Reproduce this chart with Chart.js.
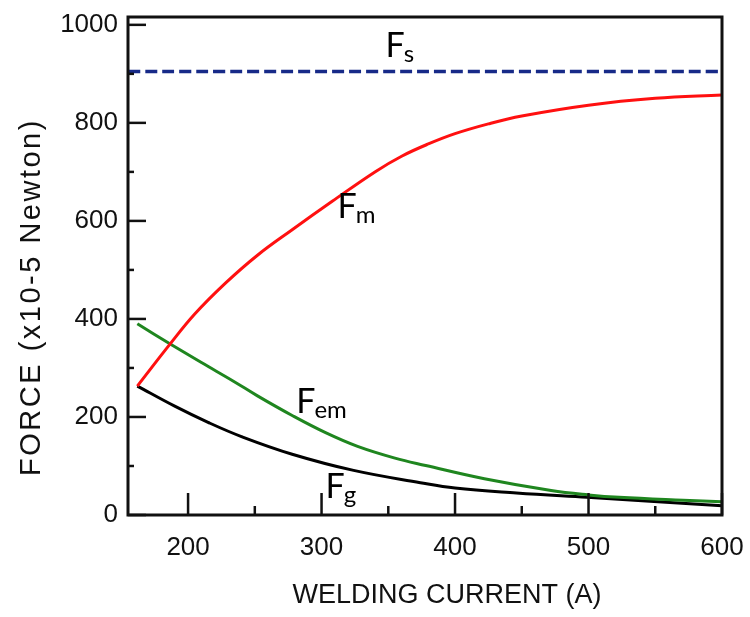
<!DOCTYPE html>
<html>
<head>
<meta charset="utf-8">
<script src="https://cdn.jsdelivr.net/npm/chart.js@4/dist/chart.umd.min.js"></script>
<style>
  html, body { margin: 0; padding: 0; background: #ffffff; }
  #wrap { width: 750px; height: 617px; }
</style>
</head>
<body>
<div id="wrap"><canvas id="chart" width="750" height="617"></canvas></div>
<script>
// Welding current (A) and force (x10^-5 N) for each force component
const fsCurrent  = [155, 600];
const fsForce    = [905, 905];

const fmCurrent  = [162, 186, 205, 228, 252, 278, 308, 340, 360, 380, 400, 425, 450, 500, 550, 600];
const fmForce    = [263, 347, 410, 473, 530, 582, 640, 700, 732, 757, 778, 798, 814, 836, 850, 857];

const femCurrent = [162, 186, 210, 234, 252, 278, 303, 327, 355, 378, 422, 472, 500, 523, 571, 600];
const femForce   = [390, 350, 311, 273, 243, 203, 168, 140, 116, 101, 74, 50, 41, 36, 30, 27];

const fgCurrent  = [162, 190, 215, 240, 278, 324, 374, 400, 446, 499, 546, 600];
const fgForce    = [263, 222, 189, 160, 124, 91, 66, 55, 45, 36, 28, 19];

// Axis ticks
const xTickValues = [200, 250, 300, 350, 400, 450, 500, 550, 600];
const xTickLabels = [200, 300, 400, 500, 600];
const yTickValues = [0, 100, 200, 300, 400, 500, 600, 700, 800, 900, 1000];
const yTickLabels = [0, 200, 400, 600, 800, 1000];

const xTitle = 'WELDING CURRENT (A)';
const yTitle = 'FORCE (x10-5 Newton)';

// Curve names: main letter and subscript, anchored in data units
const curveLabels = [
  { main: 'F', sub: 's',  x: 348, y: 935 },
  { main: 'F', sub: 'm',  x: 312, y: 606 },
  { main: 'F', sub: 'em', x: 281, y: 208 },
  { main: 'F', sub: 'g',  x: 303, y: 35 }
];

const pts = (xs, ys) => xs.map((v, i) => ({ x: v, y: ys[i] }));

const AXIS_FONT = '"Liberation Sans", Arial, sans-serif';
const LABEL_FONT = 'Lato, "Open Sans", sans-serif';

// Frame, inward tick marks, axis titles and curve names
const decorations = {
  id: 'decorations',
  afterDraw(chart) {
    const { ctx, chartArea: a, scales: { x, y } } = chart;
    ctx.save();
    ctx.strokeStyle = '#111';
    ctx.lineCap = 'butt';

    ctx.lineWidth = 2.5;
    xTickValues.forEach(v => {
      const px = x.getPixelForValue(v);
      const len = xTickLabels.includes(v) ? 22 : 9;
      ctx.beginPath(); ctx.moveTo(px, a.bottom); ctx.lineTo(px, a.bottom - len); ctx.stroke();
    });
    yTickValues.forEach(v => {
      const py = y.getPixelForValue(v);
      const len = yTickLabels.includes(v) ? 18 : 6;
      ctx.beginPath(); ctx.moveTo(a.left, py); ctx.lineTo(a.left + len, py); ctx.stroke();
    });

    ctx.lineWidth = 3;
    ctx.strokeRect(a.left, a.top, a.right - a.left, a.bottom - a.top);

    // axis titles
    ctx.fillStyle = '#111';
    ctx.font = '27px ' + AXIS_FONT;
    ctx.textAlign = 'center';
    ctx.textBaseline = 'alphabetic';
    ctx.fillText(xTitle, 447, 603);

    ctx.save();
    ctx.translate(40, 298);
    ctx.rotate(-Math.PI / 2);
    ctx.font = '29px ' + AXIS_FONT;
    ctx.letterSpacing = '2.5px';
    ctx.fillText(yTitle, 1, 0);
    ctx.restore();

    // curve names
    ctx.fillStyle = '#000';
    ctx.textAlign = 'left';
    curveLabels.forEach(l => {
      const px = x.getPixelForValue(l.x);
      const py = y.getPixelForValue(l.y);
      ctx.font = '34px ' + LABEL_FONT;
      ctx.fillText(l.main, px, py);
      const w = ctx.measureText(l.main).width;
      ctx.font = '24px ' + LABEL_FONT;
      ctx.fillText(l.sub, px + w - 1, py + 5);
    });
    ctx.restore();
  }
};

const lineStyle = (color, width) => ({
  borderColor: color,
  backgroundColor: color,
  borderWidth: width,
  pointRadius: 0,
  fill: false,
  tension: 0.4
});

// keep the plot box fixed: no extra room for overhanging tick labels
const noOverhang = s => {
  s.paddingLeft = 0; s.paddingRight = 0; s.paddingTop = 0; s.paddingBottom = 0;
};

new Chart(document.getElementById('chart'), {
  type: 'line',
  data: {
    datasets: [
      Object.assign({ label: 'Fs',  data: pts(fsCurrent, fsForce), borderDash: [12, 5] }, lineStyle('#172a88', 3.5)),
      Object.assign({ label: 'Fm',  data: pts(fmCurrent, fmForce) },  lineStyle('#ff1010', 3)),
      Object.assign({ label: 'Fem', data: pts(femCurrent, femForce) }, lineStyle('#1f861f', 3)),
      Object.assign({ label: 'Fg',  data: pts(fgCurrent, fgForce) },  lineStyle('#000000', 3))
    ]
  },
  options: {
    responsive: false,
    animation: false,
    events: [],
    layout: { padding: { top: 17, right: 28, left: 0, bottom: 0 } },
    plugins: { legend: { display: false }, tooltip: { enabled: false } },
    scales: {
      x: {
        type: 'linear',
        min: 155,
        max: 600,
        afterBuildTicks: s => { s.ticks = xTickValues.map(v => ({ value: v })); },
        afterFit: s => { s.height = 102; noOverhang(s); },
        grid: { display: false, drawTicks: false },
        border: { display: false },
        ticks: {
          padding: 17,
          autoSkip: false,
          maxRotation: 0,
          color: '#111',
          font: { family: AXIS_FONT, size: 26 },
          callback: v => xTickLabels.includes(v) ? String(v) : ''
        }
      },
      y: {
        type: 'linear',
        min: 0,
        max: 1016,
        afterBuildTicks: s => { s.ticks = yTickValues.map(v => ({ value: v })); },
        afterFit: s => { s.width = 128; noOverhang(s); },
        grid: { display: false, drawTicks: false },
        border: { display: false },
        ticks: {
          padding: 10,
          autoSkip: false,
          color: '#111',
          font: { family: AXIS_FONT, size: 26 },
          callback: v => yTickLabels.includes(v) ? String(v) : ''
        }
      }
    }
  },
  plugins: [decorations]
});
</script>
</body>
</html>
